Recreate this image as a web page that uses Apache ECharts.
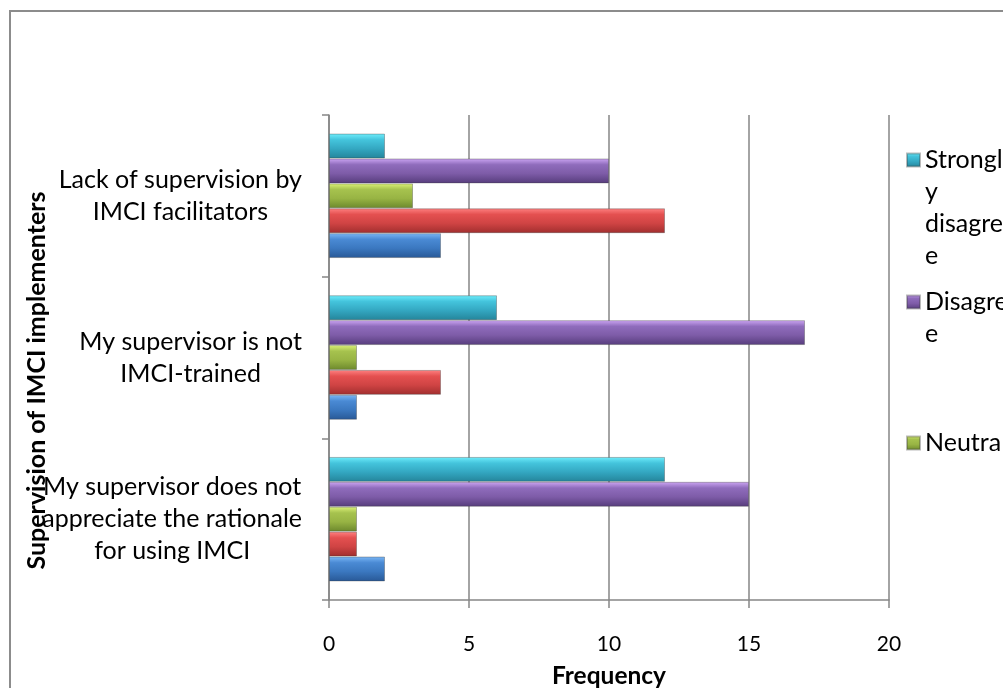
<!DOCTYPE html>
<html><head><meta charset="utf-8">
<script src="https://cdn.jsdelivr.net/npm/echarts@6/dist/echarts.min.js"></script>
<style>html,body{margin:0;padding:0;background:#fff}#c{width:1003px;height:688px}</style>
</head><body><div id="c"></div>
<script>
// Categories (bottom to top), wrapped as in the reference
const categories = [
  'My supervisor does not\nappreciate the rationale\nfor using IMCI',
  'My supervisor is not\nIMCI-trained',
  'Lack of supervision by\nIMCI facilitators'
];
// Series listed from the top bar of each group to the bottom bar
const seriesNames = ['Strongly disagree', 'Disagree', 'Neutral', 'Agree', 'Strongly agree'];
const stronglyDisagree = [12, 6, 2];
const disagree         = [15, 17, 10];
const neutral          = [1, 1, 3];
const agree            = [1, 4, 12];
const stronglyAgree    = [2, 1, 4];
const xMin = 0, xMax = 20, xInterval = 5;
const legendLabels = {
  'Strongly disagree': 'Strongl\ny\ndisagre\ne',
  'Disagree': 'Disagre\ne',
  'Neutral': 'Neutral'
};

const FONT = 'Lato';
const gradients = [
  ['#70eefc', '#44c4dc', '#34a8c2', '#24849a'],  // cyan
  ['#cda6f4', '#8f6cbc', '#7e5ca8', '#563c7c'],  // purple
  ['#dcf278', '#a6c24e', '#98b444', '#6c882c'],  // green
  ['#ff8282', '#e45050', '#d04444', '#a02e2e'],  // red
  ['#7cb8f6', '#4a8ad4', '#3b78c0', '#285896']   // blue
];
function grad(c) {
  return new echarts.graphic.LinearGradient(0, 0, 0, 1, [
    {offset: 0, color: c[0]}, {offset: 0.25, color: c[1]},
    {offset: 0.6, color: c[2]}, {offset: 1, color: c[3]}
  ]);
}
const values = [stronglyDisagree, disagree, neutral, agree, stronglyAgree];

const chart = echarts.init(document.getElementById('c'), null, {renderer: 'canvas'});
const LH = 32;
function legendFor(name, n, centerY) {
  return {
    data: [name], orient: 'vertical', left: 906, top: centerY - (2 * n - 1) * LH / 2, padding: 0,
    itemWidth: 13, itemHeight: 13, icon: 'rect', selectedMode: false,
    formatter: (nm) => '\n'.repeat(n - 1) + legendLabels[nm],
    textStyle: {fontFamily: FONT, fontSize: 25, lineHeight: LH, color: '#000'}
  };
}
chart.setOption({
  animation: false,
  backgroundColor: '#fff',
  graphic: [{
    type: 'rect', silent: true, z: -10,
    shape: {x: 10, y: 11, width: 1200, height: 1000},
    style: {fill: 'none', stroke: '#8c8c8c', lineWidth: 2}
  }],
  grid: {left: 329, right: 114, top: 115, bottom: 88, containLabel: false, outerBoundsMode: 'none'},
  legend: [
    legendFor('Strongly disagree', 4, 160),
    legendFor('Disagree', 2, 302),
    legendFor('Neutral', 1, 443)
  ],
  xAxis: {
    type: 'value', min: xMin, max: xMax, interval: xInterval,
    name: 'Frequency', nameLocation: 'middle', nameGap: 64, nameMoveOverlap: false,
    nameTextStyle: {fontFamily: FONT, fontSize: 24.5, fontWeight: 'bold', color: '#000'},
    axisLine: {show: true, lineStyle: {color: '#868686', width: 1.5}},
    axisTick: {show: true, length: 8, lineStyle: {color: '#868686', width: 1.5}},
    axisLabel: {fontFamily: FONT, fontSize: 21, color: '#000', margin: 34},
    splitLine: {show: true, lineStyle: {color: '#868686', width: 1.5}}
  },
  yAxis: {
    type: 'category', data: categories,
    name: 'Supervision of IMCI implementers', nameLocation: 'middle', nameGap: 280,
    nameRotate: 90, nameMoveOverlap: false,
    nameTextStyle: {fontFamily: FONT, fontSize: 25, fontWeight: 'bold', color: '#000',
      padding: [0, 46, 0, 0]},
    axisLine: {show: true, lineStyle: {color: '#868686', width: 1.5}},
    axisTick: {show: true, length: 7, lineStyle: {color: '#868686', width: 1.5}},
    axisLabel: {
      margin: 27, align: 'right',
      formatter: (v) => v.split('\n').map(l => '{c|' + l + '}').join('\n'),
      rich: {c: {align: 'center', fontFamily: FONT, fontSize: 25, lineHeight: 32, color: '#000'}}
    },
    splitLine: {show: false}
  },
  series: seriesNames.map((name, i) => ({
    name: name, type: 'bar', data: values[i],
    barGap: '0%', barCategoryGap: '23%',
    itemStyle: {color: grad(gradients[i]), borderColor: 'rgba(60,60,60,0.35)', borderWidth: 1}
  }))
});
</script></body></html>
